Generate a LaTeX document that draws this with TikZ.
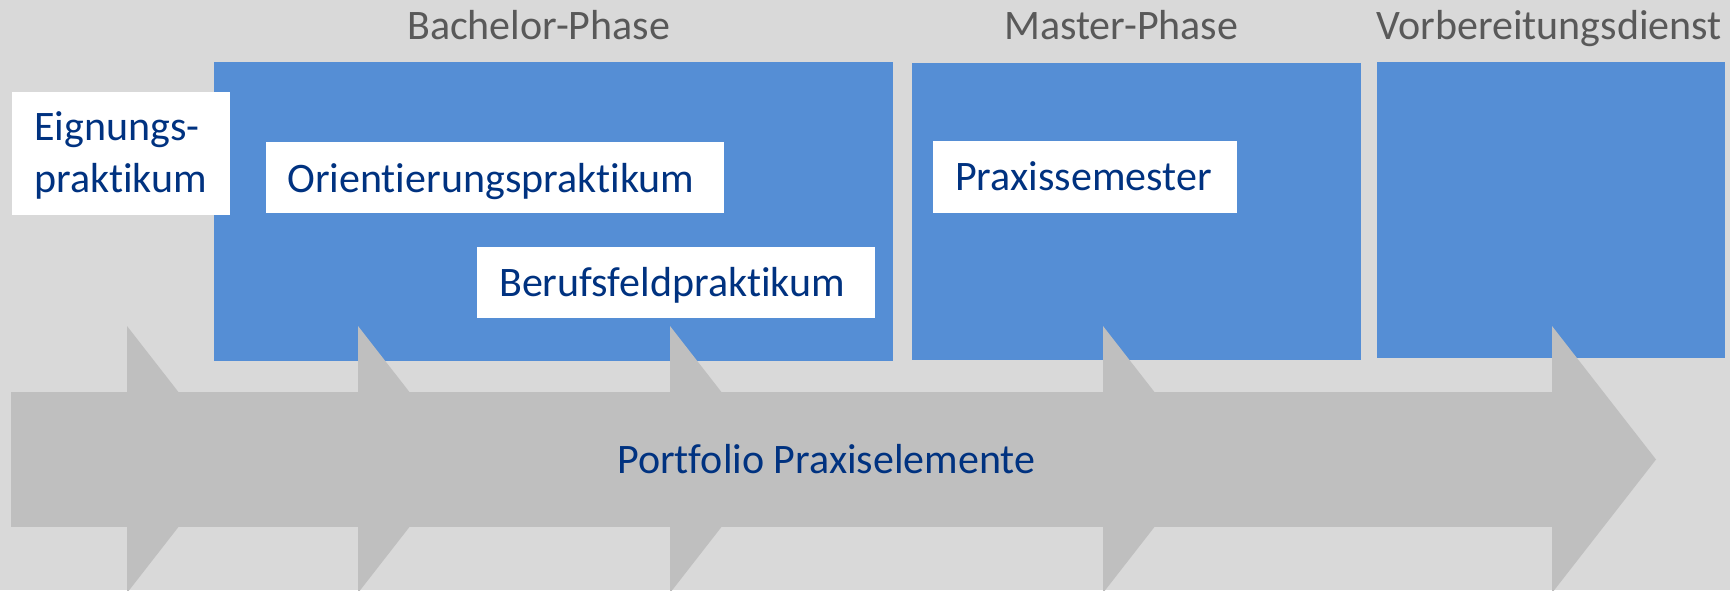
\documentclass[tikz,border=0pt]{standalone}
\usepackage{fontspec}
\setmainfont{Carlito}[Ligatures={NoCommon,NoRequired,NoContextual}]
\definecolor{bggray}{RGB}{217,217,217}
\definecolor{phaseblue}{RGB}{85,142,213}
\definecolor{arrowgray}{RGB}{191,191,191}
\definecolor{headgray}{RGB}{89,89,89}
\definecolor{textblue}{RGB}{0,50,128}
\begin{document}
\begin{tikzpicture}[x=1pt,y=-1pt,
  phasebox/.style={fill=phaseblue,draw=none,inner sep=0pt,outer sep=0pt,anchor=north west},
  whitebox/.style={fill=white,draw=none,inner sep=0pt,outer sep=0pt,anchor=north west},
  headtxt/.style={text=headgray,inner sep=0pt,anchor=base west,font=\fontsize{42}{52}\selectfont},
  bluetxt/.style={text=textblue,inner sep=0pt,anchor=base west,font=\fontsize{42}{52}\selectfont},
  arrowfill/.style={fill=arrowgray,draw=none}]
\useasboundingbox (0,0) rectangle (1730,590);
\clip (0,0) rectangle (1730,590);
\fill[bggray] (0,0) rectangle (1730,590);
% phase boxes
\node[phasebox,minimum width=679pt,minimum height=299pt] (bachelor) at (214,62) {};
\node[phasebox,minimum width=449pt,minimum height=297pt] (master) at (912,63) {};
\node[phasebox,minimum width=348pt,minimum height=296pt] (vorb) at (1377,62) {};
% headings
\node[headtxt] (hbachelor) at (407,39) {Bachelor-Phase};
\node[headtxt] (hmaster) at (1004,39) {Master-Phase};
\node[headtxt] (hvorb) at (1376,39) {Vorbereitungsdienst};
% big arrow
\fill[arrowfill] (11,392) rectangle (1553,527);
\foreach \b in {127,358,670,1103,1552}{
  \fill[arrowfill] (\b,326) -- (\b+104,459.5) -- (\b,593) -- cycle;
}
\node[bluetxt] (portfolio) at (617,473) {Portfolio Praxiselemente};
% white boxes
\node[whitebox,minimum width=218pt,minimum height=123pt] (eignbox) at (12,92) {};
\node[whitebox,minimum width=458pt,minimum height=71pt] (orientbox) at (265.5,142) {};
\node[whitebox,minimum width=397.5pt,minimum height=71pt] (berufbox) at (477,247) {};
\node[whitebox,minimum width=304pt,minimum height=71.5pt] (praxisbox) at (933,141) {};
% texts
\node[bluetxt] (eign) at (34,140) {\begin{tabular}[t]{@{}l@{}}Eignungs-\\praktikum\end{tabular}};
\node[bluetxt] (orient) at (287,192.3) {Orientierungspraktikum};
\node[bluetxt] (beruf) at (499,296.7) {Berufsfeldpraktikum};
\node[bluetxt] (praxis) at (955,190.7) {Praxissemester};
\end{tikzpicture}
\end{document}
